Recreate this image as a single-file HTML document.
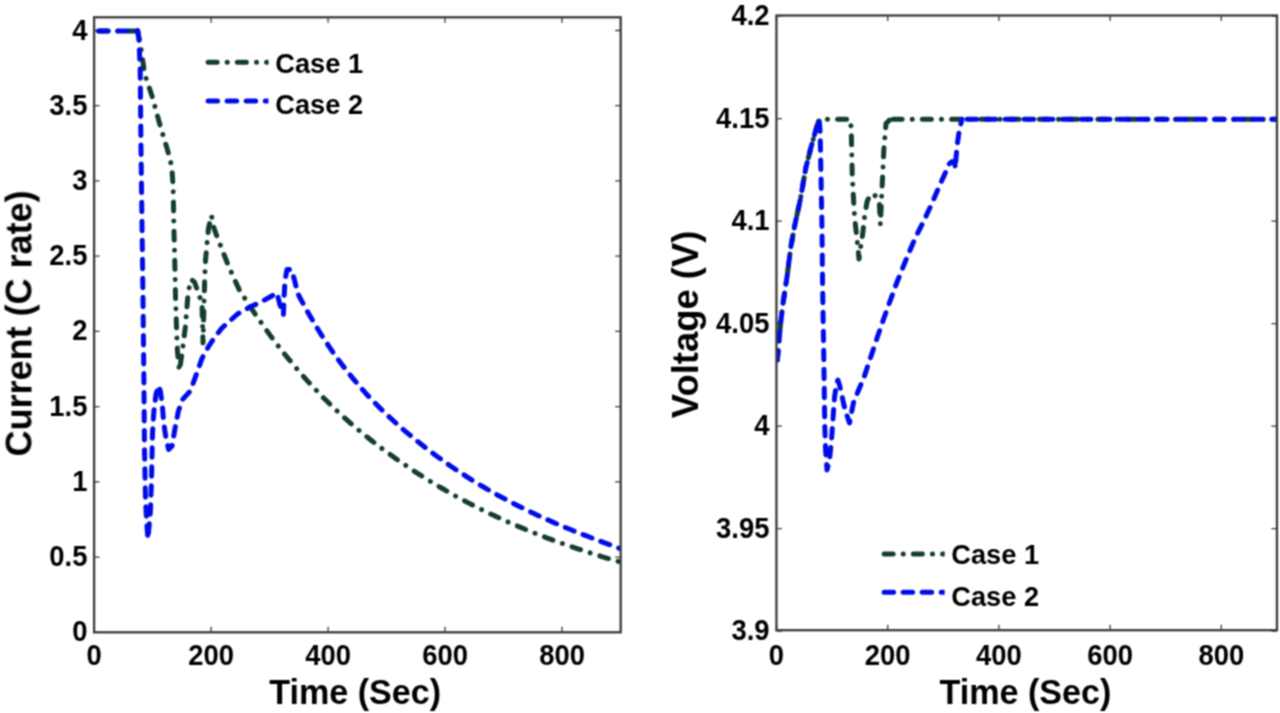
<!DOCTYPE html>
<html><head><meta charset="utf-8"><style>
html,body{margin:0;padding:0;background:#fff;width:1280px;height:713px;overflow:hidden;}
svg{display:block;font-family:"Liberation Sans",sans-serif;}
</style></head><body>
<svg width="1280" height="713" viewBox="0 0 1280 713">
<g filter="url(#bl)"><rect width="1280" height="713" fill="#fff"/>
<defs><filter id="bl" color-interpolation-filters="sRGB" x="0" y="0" width="100%" height="100%" filterUnits="userSpaceOnUse"><feConvolveMatrix order="3" kernelMatrix="1 2 1 2 4 2 1 2 1" edgeMode="duplicate" preserveAlpha="true"/></filter><clipPath id="cl"><rect x="94.1" y="17.3" width="526.6" height="615.0"/></clipPath><clipPath id="cr"><rect x="776.45" y="15.5" width="500.45000000000005" height="614.7"/></clipPath></defs>
<path d="M94.1,632.3 v-5.5 M94.1,17.3 v5.5 M211.1,632.3 v-5.5 M211.1,17.3 v5.5 M328.1,632.3 v-5.5 M328.1,17.3 v5.5 M445.0,632.3 v-5.5 M445.0,17.3 v5.5 M562.0,632.3 v-5.5 M562.0,17.3 v5.5 M94.1,632.3 h5.5 M620.7,632.3 h-5.5 M94.1,557.1 h5.5 M620.7,557.1 h-5.5 M94.1,481.8 h5.5 M620.7,481.8 h-5.5 M94.1,406.6 h5.5 M620.7,406.6 h-5.5 M94.1,331.4 h5.5 M620.7,331.4 h-5.5 M94.1,256.2 h5.5 M620.7,256.2 h-5.5 M94.1,180.9 h5.5 M620.7,180.9 h-5.5 M94.1,105.7 h5.5 M620.7,105.7 h-5.5 M94.1,30.5 h5.5 M620.7,30.5 h-5.5" stroke="#3a3a3a" stroke-width="1.3" fill="none"/>
<path d="M776.5,630.2 v-5.5 M776.5,15.5 v5.5 M887.7,630.2 v-5.5 M887.7,15.5 v5.5 M998.9,630.2 v-5.5 M998.9,15.5 v5.5 M1110.1,630.2 v-5.5 M1110.1,15.5 v5.5 M1221.3,630.2 v-5.5 M1221.3,15.5 v5.5 M776.45,631.0 h5.5 M1276.9,631.0 h-5.5 M776.45,528.6 h5.5 M1276.9,528.6 h-5.5 M776.45,426.1 h5.5 M1276.9,426.1 h-5.5 M776.45,323.6 h5.5 M1276.9,323.6 h-5.5 M776.45,221.1 h5.5 M1276.9,221.1 h-5.5 M776.45,118.6 h5.5 M1276.9,118.6 h-5.5 M776.45,16.2 h5.5 M1276.9,16.2 h-5.5" stroke="#3a3a3a" stroke-width="1.3" fill="none"/>
<path d="M94.0,30.9 L137.7,30.9" fill="none" stroke="#143e2b" stroke-width="5.0" stroke-dasharray="9.000 10.120 0.010 10.120" stroke-dashoffset="24.35" stroke-linejoin="round" stroke-linecap="round" clip-path="url(#cl)"/>
<path d="M137.7,30.9 L141.5,52.0 L144.7,74.1 L152.1,96.3 L159.5,123.3 L166.9,147.9 L170.0,159.0 L171.8,167.5 L173.0,184.7 L173.4,200.0 L173.8,225.0 L174.7,257.8 L175.5,297.0 L176.8,335.8 L177.5,352.0 L179.4,371.0 L181.9,354.3 L185.3,327.3 L187.8,297.0 L190.3,280.2 L191.4,279.7 L194.5,282.0 L198.7,293.7 L202.0,303.8 L203.0,343.0 L204.6,282.0 L205.5,260.0 L208.5,228.0 L211.5,215.5 L213.8,227.7 L217.0,236.5 L221.4,247.9 L227.1,262.4 L232.8,275.7 L239.1,289.4 L243.1,295.8 L247.2,302.0 L251.2,308.2 L255.2,314.2 L259.3,320.0 L263.3,325.8 L267.3,331.4 L271.3,336.9 L275.4,342.2 L279.4,347.5 L283.4,352.6 L287.5,357.6 L291.5,362.5 L295.5,367.3 L299.6,372.0 L303.6,376.6 L307.6,381.1 L311.6,385.4 L315.7,389.7 L319.7,393.9 L323.7,398.0 L327.8,402.0 L331.8,406.0 L335.8,409.8 L339.9,413.6 L343.9,417.2 L347.9,420.8 L352.0,424.4 L356.0,427.8 L360.0,431.2 L364.0,434.5 L368.1,437.8 L372.1,441.0 L376.1,444.1 L380.2,447.2 L384.2,450.2 L388.2,453.1 L392.3,456.0 L396.3,458.9 L400.3,461.7 L404.4,464.5 L408.4,467.2 L412.4,469.9 L416.4,472.6 L420.5,475.2 L424.5,477.7 L428.5,480.2 L432.6,482.7 L436.6,485.1 L440.6,487.5 L444.7,489.8 L448.7,492.2 L452.7,494.4 L456.7,496.7 L460.8,498.8 L464.8,501.0 L468.8,503.1 L472.9,505.2 L476.9,507.3 L480.9,509.3 L485.0,511.2 L489.0,513.2 L493.0,515.1 L497.1,517.0 L501.1,518.8 L505.1,520.7 L509.1,522.4 L513.2,524.2 L517.2,525.9 L521.2,527.6 L525.3,529.3 L529.3,531.0 L533.3,532.6 L537.4,534.2 L541.4,535.7 L545.4,537.3 L549.5,538.8 L553.5,540.3 L557.5,541.8 L561.5,543.2 L565.6,544.6 L569.6,546.0 L573.6,547.4 L577.7,548.8 L581.7,550.1 L585.7,551.4 L589.8,552.8 L593.8,554.0 L597.8,555.3 L601.8,556.6 L605.9,557.8 L609.9,559.0 L613.9,560.2 L618.0,561.4 L622.0,562.6" fill="none" stroke="#143e2b" stroke-width="5.0" stroke-dasharray="9.000 10.120 0.010 10.120" stroke-dashoffset="0.00" stroke-linejoin="round" stroke-linecap="round" clip-path="url(#cl)"/>
<path d="M777.3,360.0 L778.5,347.0 L780.4,325.0 L783.2,302.0 L787.0,277.0 L790.8,247.0 L794.6,226.0 L800.3,199.6 L805.9,167.4 L810.7,148.5 L815.4,131.5 L819.2,119.2 L850.1,119.2 L851.2,128.0 L852.3,177.4 L854.6,217.8 L856.8,237.0 L859.0,259.0 L860.5,248.0 L862.5,235.7 L864.7,215.5 L867.0,202.0 L870.3,194.2 L874.8,195.3 L879.3,202.0 L880.4,224.5 L881.5,199.8 L883.8,150.4 L886.0,123.5 L890.5,119.2" fill="none" stroke="#143e2b" stroke-width="5.0" stroke-dasharray="9.000 10.120 0.010 10.120" stroke-dashoffset="0.00" stroke-linejoin="round" stroke-linecap="round" clip-path="url(#cr)"/>
<path d="M890.5,119.2 L1276.9,119.2" fill="none" stroke="#143e2b" stroke-width="5.0" stroke-dasharray="9.000 10.120 0.010 10.120" stroke-dashoffset="26.65" stroke-linejoin="round" stroke-linecap="round" clip-path="url(#cr)"/>
<path d="M94.0,30.9 L137.7,30.9" fill="none" stroke="#000ce8" stroke-width="5.0" stroke-dasharray="9.50 9.54" stroke-dashoffset="14.41" stroke-linejoin="round" stroke-linecap="round" clip-path="url(#cl)"/>
<path d="M137.7,30.9 L138.9,38.9 L140.2,70.0 L141.0,150.0 L142.5,261.0 L143.0,300.0 L143.9,380.0 L144.5,450.0 L145.5,500.0 L147.0,527.0 L148.0,539.0 L150.5,510.0 L151.5,480.0 L151.9,461.0 L152.5,433.0 L153.8,412.0 L156.0,394.0 L158.8,385.5 L160.5,392.0 L162.3,405.0 L163.7,423.0 L165.8,437.0 L168.6,449.5 L172.1,446.0 L174.9,429.0 L178.4,411.0 L182.6,399.5 L190.3,391.0 L195.9,375.6 L201.9,358.6 L208.5,346.6 L212.8,340.0 L221.9,328.0 L237.5,314.0 L250.0,307.0 L261.4,301.8 L277.0,293.0 L279.7,304.0 L283.4,315.0 L284.0,299.0 L285.0,280.0 L287.0,269.5 L291.5,269.5 L294.5,280.0 L297.6,293.2 L301.6,300.8 L305.6,308.2 L309.6,315.3 L313.6,322.1 L317.6,328.8 L321.6,335.2 L325.6,341.4 L329.6,347.4 L333.6,353.2 L337.6,358.8 L341.7,364.2 L345.7,369.4 L349.7,374.5 L353.7,379.4 L357.7,384.1 L361.7,388.7 L365.7,393.2 L369.7,397.5 L373.7,401.7 L377.7,405.7 L381.7,409.7 L385.7,413.6 L389.7,417.3 L393.7,421.0 L397.7,424.6 L401.7,428.1 L405.7,431.6 L409.7,434.9 L413.7,438.3 L417.7,441.5 L421.8,444.7 L425.8,447.9 L429.8,450.9 L433.8,454.0 L437.8,456.9 L441.8,459.8 L445.8,462.7 L449.8,465.5 L453.8,468.2 L457.8,470.9 L461.8,473.5 L465.8,476.1 L469.8,478.7 L473.8,481.2 L477.8,483.6 L481.8,486.0 L485.8,488.4 L489.8,490.7 L493.8,493.0 L497.8,495.2 L501.9,497.4 L505.9,499.5 L509.9,501.6 L513.9,503.7 L517.9,505.7 L521.9,507.7 L525.9,509.7 L529.9,511.6 L533.9,513.5 L537.9,515.4 L541.9,517.2 L545.9,519.0 L549.9,520.8 L553.9,522.6 L557.9,524.3 L561.9,526.0 L565.9,527.7 L569.9,529.3 L573.9,531.0 L577.9,532.6 L582.0,534.2 L586.0,535.7 L590.0,537.3 L594.0,538.8 L598.0,540.4 L602.0,541.9 L606.0,543.4 L610.0,544.8 L614.0,546.3 L618.0,547.8 L622.0,549.2" fill="none" stroke="#000ce8" stroke-width="5.0" stroke-dasharray="9.50 9.54" stroke-dashoffset="0.00" stroke-linejoin="round" stroke-linecap="round" clip-path="url(#cl)"/>
<path d="M777.3,360.0 L778.5,347.0 L780.4,325.0 L783.2,302.0 L787.0,277.0 L790.8,247.0 L794.6,226.0 L800.3,199.6 L805.9,167.4 L810.7,148.5 L815.4,131.5 L819.2,119.2 L820.1,131.5 L821.1,180.7 L822.0,230.0 L822.6,287.0 L823.9,365.0 L824.8,427.0 L825.6,450.0 L827.0,470.0 L829.5,460.0 L831.5,440.0 L832.7,423.1 L834.5,397.3 L836.5,384.0 L837.9,380.2 L839.5,385.0 L841.5,393.6 L843.9,405.0 L846.2,413.0 L849.5,423.0 L853.4,403.0 L858.2,391.0 L864.1,377.0 L871.3,355.4 L878.4,334.0 L886.8,310.0 L896.3,284.0 L905.9,260.0 L915.1,238.4 L923.9,220.7 L931.5,204.3 L939.1,186.6 L945.4,172.7 L949.2,164.0 L952.0,161.5 L954.8,163.5 L955.4,168.5 L956.0,158.0 L957.2,145.0 L959.3,130.0 L962.0,119.2" fill="none" stroke="#000ce8" stroke-width="5.0" stroke-dasharray="9.50 9.54" stroke-dashoffset="0.00" stroke-linejoin="round" stroke-linecap="round" clip-path="url(#cr)"/>
<path d="M962.0,119.2 L1276.9,119.2" fill="none" stroke="#000ce8" stroke-width="5.0" stroke-dasharray="9.50 9.54" stroke-dashoffset="13.91" stroke-linejoin="round" stroke-linecap="round" clip-path="url(#cr)"/>
<rect x="94.1" y="17.3" width="526.6" height="615.0" fill="none" stroke="#3a3a3a" stroke-width="2.3"/>
<rect x="776.45" y="15.5" width="500.5" height="614.7" fill="none" stroke="#3a3a3a" stroke-width="2.3"/>
<g font-family="Liberation Sans, sans-serif" font-weight="bold" fill="#000"><text transform="translate(87.40,641.37) scale(0.93,1.0)" font-size="29.5" text-anchor="end">0</text><text transform="translate(87.40,566.15) scale(0.93,1.0)" font-size="29.5" text-anchor="end">0.5</text><text transform="translate(87.40,490.92) scale(0.93,1.0)" font-size="29.5" text-anchor="end">1</text><text transform="translate(87.40,415.70) scale(0.93,1.0)" font-size="29.5" text-anchor="end">1.5</text><text transform="translate(87.40,340.47) scale(0.93,1.0)" font-size="29.5" text-anchor="end">2</text><text transform="translate(87.40,265.25) scale(0.93,1.0)" font-size="29.5" text-anchor="end">2.5</text><text transform="translate(87.40,190.02) scale(0.93,1.0)" font-size="29.5" text-anchor="end">3</text><text transform="translate(87.40,114.80) scale(0.93,1.0)" font-size="29.5" text-anchor="end">3.5</text><text transform="translate(87.40,39.57) scale(0.93,1.0)" font-size="29.5" text-anchor="end">4</text><text transform="translate(769.50,640.11) scale(0.93,1.0)" font-size="29.5" text-anchor="end">3.9</text><text transform="translate(769.50,537.63) scale(0.93,1.0)" font-size="29.5" text-anchor="end">3.95</text><text transform="translate(769.50,435.15) scale(0.93,1.0)" font-size="29.5" text-anchor="end">4</text><text transform="translate(769.50,332.67) scale(0.93,1.0)" font-size="29.5" text-anchor="end">4.05</text><text transform="translate(769.50,230.19) scale(0.93,1.0)" font-size="29.5" text-anchor="end">4.1</text><text transform="translate(769.50,127.71) scale(0.93,1.0)" font-size="29.5" text-anchor="end">4.15</text><text transform="translate(769.50,25.23) scale(0.93,1.0)" font-size="29.5" text-anchor="end">4.2</text><text transform="translate(94.10,664.57) scale(0.93,1.0)" font-size="29.5" text-anchor="middle">0</text><text transform="translate(776.45,664.57) scale(0.93,1.0)" font-size="29.5" text-anchor="middle">0</text><text transform="translate(211.08,664.57) scale(0.93,1.0)" font-size="29.5" text-anchor="middle">200</text><text transform="translate(887.66,664.57) scale(0.93,1.0)" font-size="29.5" text-anchor="middle">200</text><text transform="translate(328.06,664.57) scale(0.93,1.0)" font-size="29.5" text-anchor="middle">400</text><text transform="translate(998.87,664.57) scale(0.93,1.0)" font-size="29.5" text-anchor="middle">400</text><text transform="translate(445.04,664.57) scale(0.93,1.0)" font-size="29.5" text-anchor="middle">600</text><text transform="translate(1110.08,664.57) scale(0.93,1.0)" font-size="29.5" text-anchor="middle">600</text><text transform="translate(562.02,664.57) scale(0.93,1.0)" font-size="29.5" text-anchor="middle">800</text><text transform="translate(1221.29,664.57) scale(0.93,1.0)" font-size="29.5" text-anchor="middle">800</text><text transform="translate(355.20,704.30) scale(0.953,1.0)" font-size="35.8" text-anchor="middle">Time&#160;(Sec)</text><text transform="translate(1025.40,704.30) scale(0.953,1.0)" font-size="35.8" text-anchor="middle">Time&#160;(Sec)</text><text transform="translate(31.50,323.45) rotate(-90) scale(0.96,1.0)" font-size="37.5" text-anchor="middle">Current (C rate)</text><text transform="translate(698.30,324.40) rotate(-90) scale(0.972,1.0)" font-size="37.5" text-anchor="middle">Voltage (V)</text><clipPath id="lg1"><rect x="205.1" y="0" width="63.400000000000006" height="713"/></clipPath><path d="M208.1,62.3 H276" stroke="#143e2b" stroke-width="5.0" stroke-dasharray="9.000 10.120 0.010 10.120" stroke-linecap="round" clip-path="url(#lg1)"/><path d="M208.1,100.9 H276" stroke="#000ce8" stroke-width="5.0" stroke-dasharray="9.50 9.54" stroke-linecap="round" clip-path="url(#lg1)"/><text transform="translate(275.30,73.00) scale(0.962,1.0)" font-size="28.3" text-anchor="start">Case 1</text><text transform="translate(275.30,113.80) scale(0.962,1.0)" font-size="28.3" text-anchor="start">Case 2</text><clipPath id="lg2"><rect x="881.1" y="0" width="63.60000000000002" height="713"/></clipPath><path d="M884.1,553.9 H952.2" stroke="#143e2b" stroke-width="5.0" stroke-dasharray="9.000 10.120 0.010 10.120" stroke-linecap="round" clip-path="url(#lg2)"/><path d="M884.1,592.3 H952.2" stroke="#000ce8" stroke-width="5.0" stroke-dasharray="9.50 9.54" stroke-linecap="round" clip-path="url(#lg2)"/><text transform="translate(951.30,564.20) scale(0.962,1.0)" font-size="28.3" text-anchor="start">Case 1</text><text transform="translate(951.30,605.70) scale(0.962,1.0)" font-size="28.3" text-anchor="start">Case 2</text></g>
</g></svg>
</body></html>
